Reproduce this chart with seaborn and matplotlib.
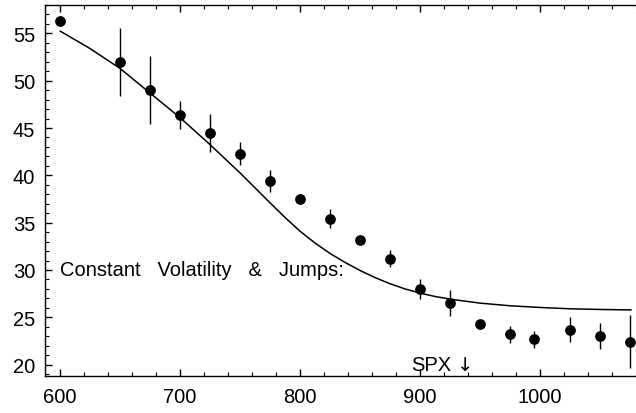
import numpy as np
import pandas as pd
import matplotlib.pyplot as plt
import seaborn as sns
from matplotlib.ticker import MultipleLocator

# observed points with error bars
strike = [600, 650, 675, 700, 725, 750, 775, 800, 825, 850, 875, 900, 925, 950, 975, 995, 1025, 1050, 1075]
vol = [56.3, 52.0, 49.0, 46.4, 44.5, 42.3, 39.4, 37.5, 35.4, 33.2, 31.2, 28.0, 26.5, 24.3, 23.2, 22.7, 23.7, 23.0, 22.4]
err = [0.5, 3.6, 3.6, 1.5, 2.0, 1.2, 1.2, 0.5, 1.0, 0.3, 0.9, 1.1, 1.4, 0.3, 0.9, 0.9, 1.3, 1.4, 2.8]

# model curve
curve_x = [600, 625, 650, 675, 700, 725, 750, 775, 787.5, 800, 812.5, 825, 837.5, 850, 862.5, 875, 887.5,
           900, 912.5, 925, 950, 975, 1000, 1025, 1050, 1076]
curve_y = [55.25, 53.4, 51.3, 48.7, 46.1, 43.25, 40.26, 37.1, 35.55, 34.1, 32.85, 31.75, 30.8, 29.95, 29.2, 28.55, 28.0,
           27.56, 27.2, 26.92, 26.5, 26.22, 26.04, 25.9, 25.83, 25.78]

pts = pd.DataFrame({"strike": strike, "vol": vol, "err": err})
model = pd.DataFrame({"strike": curve_x, "vol": curve_y})

sns.set_style("ticks")
plt.rcParams['font.family'] = ['Liberation Sans', 'DejaVu Sans']
plt.rcParams['text.color'] = 'black'

fig = plt.figure(figsize=(6.36, 4.14), dpi=100)
ax = fig.add_axes([0.0708, 0.0894, 0.9292, 0.8961])

sns.lineplot(data=model, x="strike", y="vol", color="black", linewidth=1.1, ax=ax)
ax.errorbar(pts["strike"], pts["vol"], yerr=pts["err"], fmt="none", ecolor="black", elinewidth=1.0, capsize=0)
sns.scatterplot(data=pts, x="strike", y="vol", color="black", s=60, edgecolor="black", linewidth=0, ax=ax, zorder=5)

ax.set_xlim(587.5, 1080)
ax.set_ylim(18.8, 58)
ax.set_xlabel("")
ax.set_ylabel("")

ax.xaxis.set_major_locator(MultipleLocator(100))
ax.xaxis.set_minor_locator(MultipleLocator(20))
ax.yaxis.set_major_locator(MultipleLocator(5))
ax.yaxis.set_minor_locator(MultipleLocator(1))
ax.tick_params(which="both", direction="in", top=True, right=False, labelsize=14.5,
               colors="black", labelcolor="black")
ax.tick_params(which="major", length=5, width=1)
ax.tick_params(which="minor", length=3, width=0.8)
ax.tick_params(axis="x", which="major", pad=8)
ax.tick_params(axis="y", which="major", pad=7)
ax.spines["right"].set_visible(False)
for s in ["left", "bottom", "top"]:
    ax.spines[s].set_linewidth(1.0)
    ax.spines[s].set_color("black")

ax.text(600, 30, "Constant   Volatility   &   Jumps:", fontsize=14.5, va="center", ha="left", color="black")
ax.text(892.5, 20.0, "SPX", fontsize=14.5, va="center", ha="left", color="black")
ax.text(937.5, 20.0, "\u2193", fontsize=14, va="center", ha="center", color="black", family="DejaVu Sans")

fig.savefig("out.png", dpi=100)
